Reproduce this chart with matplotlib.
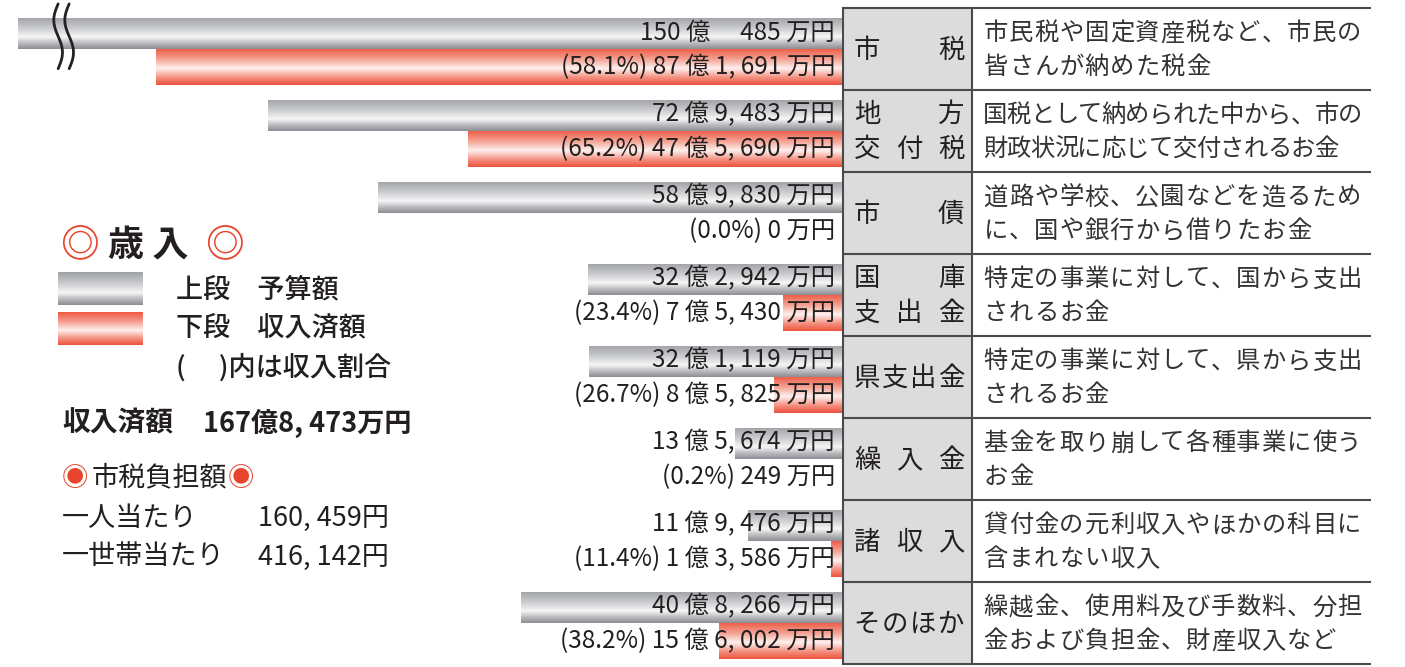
import numpy as np
import matplotlib
matplotlib.use('Agg')
import matplotlib.pyplot as plt
from matplotlib.colors import LinearSegmentedColormap
from matplotlib.patches import Rectangle
from matplotlib.transforms import blended_transform_factory

plt.rcParams['font.family'] = ['Noto Sans CJK JP', 'DejaVu Sans']

# 歳入 (amounts in 万円)
items = ['市税', '地方\n交付税', '市債', '国庫\n支出金', '県支出金', '繰入金', '諸収入', 'そのほか']
budget = [1500485, 729483, 589830, 322942, 321119, 135674, 119476, 408266]
received = [871691, 475690, 0, 75430, 85825, 249, 13586, 156002]
rates = [58.1, 65.2, 0.0, 23.4, 26.7, 0.2, 11.4, 38.2]
notes = [
    '市民税や固定資産税など、市民の\n皆さんが納めた税金',
    '国税として納められた中から、市の\n財政状況に応じて交付されるお金',
    '道路や学校、公園などを造るため\nに、国や銀行から借りたお金',
    '特定の事業に対して、国から支出\nされるお金',
    '特定の事業に対して、県から支出\nされるお金',
    '基金を取り崩して各種事業に使う\nお金',
    '貸付金の元利収入やほかの科目に\n含まれない収入',
    '繰越金、使用料及び手数料、分担\n金および負担金、財産収入など',
]
total_received = '167億8, 473万円'
per_person = '160, 459円'
per_household = '416, 142円'

RED = '#e8432b'
INK = '#231f20'
LINE = '#4a4a4a'

gray_cmap = LinearSegmentedColormap.from_list('gray_bar', [
    (0.0, '#a0a1a6'), (0.35, '#cbcccf'), (0.62, '#f6f6f7'), (0.82, '#b9babd'), (1.0, '#8d8e93')])
red_cmap = LinearSegmentedColormap.from_list('red_bar', [
    (0.0, '#ee5843'), (0.3, '#f4a293'), (0.55, '#fdf1ee'), (0.8, '#f38f7f'), (1.0, '#ec533d')])
grad = np.linspace(0, 1, 256).reshape(-1, 1)


def yen(man):
    oku, rest = divmod(man, 10000)
    if oku == 0:
        return f'{rest} 万円'
    if rest < 1000:
        return f'{oku} 億　 {rest} 万円'
    return f'{oku} 億 {rest // 1000}, {rest % 1000:03d} 万円'


def gradient_barh(ax, ys, widths, height, cmap):
    bars = ax.barh(ys, widths, height=height, color='none', edgecolor='none')
    for bar in bars:
        x0, y0 = bar.get_xy()
        w, h = bar.get_width(), bar.get_height()
        if w <= 0:
            continue
        im = ax.imshow(grad, cmap=cmap, aspect='auto', origin='upper',
                       extent=[x0, x0 + w, y0 + h, y0], interpolation='bilinear')
        # path + transform keeps the axes clip box as well
        im.set_clip_path(bar.get_path(), bar.get_transform())


fig = plt.figure(figsize=(14.05, 6.67), dpi=100)

ax_bg = fig.add_axes([0, 0, 1, 1])
ax_bg.set_zorder(0)
ax_bg.patch.set_visible(False)

ax = fig.add_axes([18 / 1405, 3 / 667, 824 / 1405, 656 / 667])
ax.set_zorder(1)
ax.patch.set_visible(False)

rows = np.arange(len(items))
oku_budget = np.array(budget) / 10000
oku_received = np.array(received) / 10000

gradient_barh(ax, rows + 0.31, oku_budget, 0.38, gray_cmap)
gradient_barh(ax, rows + 0.72, oku_received, 0.45, red_cmap)

for i in rows:
    ax.annotate(yen(budget[i]), xy=(0, i + 0.30), xytext=(-7, 0), textcoords='offset pixels',
                ha='right', va='center', fontsize=17.5, color=INK)
    ax.annotate(f'({rates[i]:.1f}%) ' + yen(received[i]), xy=(0, i + 0.72), xytext=(-7, 0),
                textcoords='offset pixels', ha='right', va='center', fontsize=17.5, color=INK)

# break marks on the 市税 budget bar
ty = np.linspace(-0.05, 0.74, 100)
for bx in (99.6, 98.2):
    ax.plot(bx + 0.55 * np.sin(2 * np.pi * (ty + 0.05) / 0.79), ty, color='#222222', lw=2,
            clip_on=False, solid_capstyle='round')

ax.set_xlim(104.7, 0)
ax.set_ylim(len(items), 0)
ax.axis('off')

# table on the right
tr = blended_transform_factory(ax_bg.transData, ax.transData)
ax_bg.add_patch(Rectangle((843, 0), 129, len(items), facecolor='#dcdcdd', edgecolor='none', transform=tr))
for i in range(len(items) + 1):
    ax_bg.plot([843, 1370], [i, i], color=LINE, lw=1.5, transform=tr)
for x in (843, 972):
    ax_bg.plot([x, x], [0, len(items)], color=LINE, lw=1.5, transform=tr)

for i, (item, note) in enumerate(zip(items, notes)):
    lines = item.split('\n')
    ys = [0.52] if len(lines) == 1 else [0.30, 0.72]
    for line, fy in zip(lines, ys):
        xs = np.linspace(867, 951, len(line)) if len(line) > 1 else [867]
        for ch, x in zip(line, xs):
            ax_bg.text(x, i + fy, ch, transform=tr, ha='center', va='center', fontsize=19, color=INK)
    nlines = note.split('\n')
    pitch = 379 / max(len(s) for s in nlines)
    for line, fy in zip(nlines, [0.31, 0.72]):
        for k, ch in enumerate(line):
            ax_bg.text(983 + pitch * (k + 0.5), i + fy, ch, transform=tr, ha='center', va='center',
                       fontsize=17.5, color='#333333')

# legend block
ax_bg.text(60, 245, '◎', ha='left', va='center', fontsize=28, color=RED, fontweight='bold')
ax_bg.text(108, 245, '歳 入', ha='left', va='center', fontsize=26, color=INK, fontweight='bold')
ax_bg.text(205, 245, '◎', ha='left', va='center', fontsize=28, color=RED, fontweight='bold')

ax_bg.imshow(grad, cmap=gray_cmap, aspect='auto', origin='upper', extent=[58, 143, 305, 272])
ax_bg.imshow(grad, cmap=red_cmap, aspect='auto', origin='upper', extent=[58, 143, 345, 312])
ax_bg.text(176, 290, '上段　予算額', ha='left', va='center', fontsize=19.5, color=INK, fontweight='medium')
ax_bg.text(176, 328, '下段　収入済額', ha='left', va='center', fontsize=19.5, color=INK, fontweight='medium')
ax_bg.text(176, 368, '( 　)内は収入割合', ha='left', va='center', fontsize=19.5, color=INK, fontweight='medium')

ax_bg.text(62, 423, '収入済額', ha='left', va='center', fontsize=20, color=INK, fontweight='bold')
ax_bg.text(203, 423, total_received, ha='left', va='center', fontsize=19.5, color=INK, fontweight='bold')

ax_bg.text(62, 478, '◉', ha='left', va='center', fontsize=19, color=RED)
ax_bg.text(92, 478, '市税負担額', ha='left', va='center', fontsize=19.5, color=INK)
ax_bg.text(228, 478, '◉', ha='left', va='center', fontsize=19, color=RED)
ax_bg.text(62, 518, '一人当たり', ha='left', va='center', fontsize=19.5, color=INK)
ax_bg.text(258, 518, per_person, ha='left', va='center', fontsize=19.5, color=INK)
ax_bg.text(62, 557, '一世帯当たり', ha='left', va='center', fontsize=19.5, color=INK)
ax_bg.text(258, 557, per_household, ha='left', va='center', fontsize=19.5, color=INK)

ax_bg.set_xlim(0, 1405)
ax_bg.set_ylim(667, 0)
ax_bg.axis('off')

fig.savefig('out.png', dpi=100)
